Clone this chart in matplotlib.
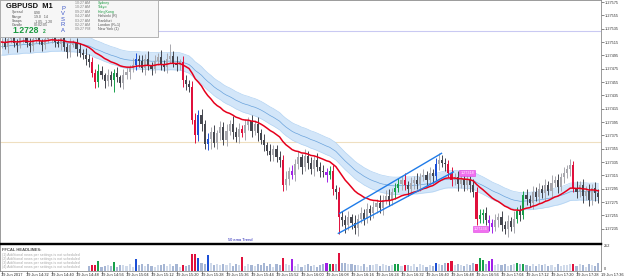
import numpy as np
import matplotlib
matplotlib.use('Agg')
import matplotlib.pyplot as plt
from matplotlib.patches import Rectangle

plt.rcParams['font.family'] = ['Liberation Sans', 'DejaVu Sans']

# prices are kept in points above 1.27000 (1 point = 0.00001)
base = 1.27
pt = 1e-5
first_open = 513

close_pts = [
    515, 508, 520, 524, 514, 510, 521, 526, 514, 509,
    520, 527, 516, 511, 519, 524, 528, 515, 512, 521,
    508, 500, 511, 514, 504, 499, 495, 490, 485, 468,
    455, 472, 465, 456, 466, 458, 468, 462, 454, 466,
    470, 476, 480, 490, 486, 476, 490, 480, 474, 487,
    492, 482, 478, 490, 494, 484, 480, 485, 458, 452,
    447, 398, 375, 405, 392, 362, 370, 380, 364, 378,
    388, 368, 382, 392, 380, 372, 385, 378, 390, 396,
    382, 392, 378, 368, 360, 352, 346, 354, 342, 338,
    300, 310, 322, 315, 332, 342, 328, 344, 334, 324,
    338, 328, 322, 320, 316, 322, 295, 290, 252, 248,
    240, 252, 244, 236, 250, 258, 250, 264, 258, 268,
    274, 266, 278, 284, 278, 290, 296, 302, 308, 300,
    294, 304, 308, 302, 312, 316, 308, 318, 314, 332,
    338, 334, 332, 318, 308, 312, 302, 310, 300, 308,
    300, 290, 250, 255, 258, 248, 244, 238, 248, 252,
    240, 234, 246, 238, 250, 262, 256, 285, 280, 274,
    290, 282, 294, 288, 300, 292, 304, 308, 298, 312,
    318, 324, 330, 296, 290, 300, 284, 292, 278, 296,
    288, 282]

up_wick = [
    6, 9, 4, 8, 11, 5, 9, 4, 10, 7,
    5, 9, 7, 4, 10, 6, 12, 7, 4, 6,
    9, 5, 10, 4, 7, 9, 6, 11, 7, 8,
    6, 10, 7, 4, 9, 6, 7, 10, 4, 9,
    7, 5, 11, 9, 6, 10, 7, 12, 5, 9,
    7, 11, 6, 9, 18, 7, 10, 5, 9, 7,
    6, 9, 11, 8, 10, 6, 9, 7, 11, 5,
    9, 7, 10, 6, 12, 7, 9, 5, 10, 7,
    9, 6, 11, 7, 9, 5, 10, 7, 6, 9,
    7, 11, 6, 9, 7, 10, 5, 11, 7, 9,
    6, 10, 7, 9, 6, 7, 9, 5, 7, 10,
    7, 9, 5, 11, 7, 9, 6, 10, 7, 9,
    6, 11, 7, 9, 10, 6, 7, 9, 6, 10,
    7, 9, 6, 11, 7, 9, 6, 10, 7, 9,
    10, 8, 7, 6, 9, 7, 10, 5, 9, 7,
    6, 9, 7, 10, 6, 9, 7, 5, 9, 7,
    10, 6, 9, 7, 11, 6, 9, 7, 10, 6,
    9, 7, 10, 6, 9, 7, 11, 6, 9, 7,
    10, 6, 9, 7, 11, 6, 9, 7, 10, 6,
    9, 7]

down_wick = [
    7, 4, 9, 6, 7, 10, 4, 7, 6, 9,
    7, 6, 4, 9, 7, 6, 10, 7, 4, 9,
    6, 9, 7, 4, 10, 7, 6, 9, 7, 6,
    9, 7, 6, 10, 7, 9, 18, 7, 6, 9,
    7, 10, 6, 7, 9, 6, 10, 7, 9, 6,
    7, 9, 6, 10, 7, 6, 9, 7, 10, 9,
    7, 6, 11, 9, 10, 7, 9, 16, 7, 9,
    10, 7, 9, 6, 11, 7, 9, 6, 10, 7,
    9, 7, 11, 6, 9, 7, 10, 9, 7, 11,
    9, 7, 10, 6, 9, 7, 11, 6, 9, 7,
    10, 6, 9, 7, 11, 6, 9, 10, 25, 9,
    11, 7, 10, 9, 12, 7, 9, 6, 10, 7,
    9, 7, 10, 6, 9, 7, 11, 6, 9, 7,
    10, 6, 9, 7, 11, 6, 9, 7, 10, 6,
    9, 7, 10, 6, 9, 7, 11, 6, 9, 7,
    10, 7, 9, 6, 11, 7, 12, 9, 7, 10,
    9, 7, 11, 6, 9, 7, 10, 6, 9, 7,
    10, 6, 9, 7, 11, 6, 9, 7, 10, 6,
    9, 7, 10, 6, 9, 7, 11, 6, 9, 7,
    12, 9]

volume = [
    0, 0, 0, 0, 0, 0, 0, 0, 0, 0,
    0, 0, 0, 0, 0, 0, 0, 0, 0, 0,
    0, 0, 0, 0, 0, 0, 0, 0, 48, 64,
    64, 98, 36, 55, 62, 46, 88, 38, 58, 65,
    50, 70, 42, 118, 60, 68, 48, 72, 55, 38,
    65, 58, 72, 46, 66, 52, 70, 42, 64, 48,
    62, 168, 168, 128, 76, 68, 158, 80, 65, 72,
    58, 70, 62, 78, 55, 68, 60, 138, 48, 72,
    65, 46, 70, 62, 76, 55, 68, 42, 72, 65,
    131, 70, 58, 118, 50, 68, 44, 60, 72, 48,
    65, 38, 58, 70, 84, 74, 67, 68, 181, 76,
    82, 68, 72, 58, 65, 48, 70, 42, 62, 56,
    68, 50, 70, 60, 46, 65, 67, 67, 55, 64,
    62, 48, 68, 44, 72, 58, 38, 65, 54, 84,
    70, 60, 76, 81, 97, 58, 72, 65, 48, 68,
    62, 78, 74, 134, 114, 70, 101, 124, 65, 72,
    58, 68, 48, 62, 70, 81, 72, 74, 65, 55,
    70, 46, 66, 58, 72, 50, 60, 44, 68, 54,
    65, 58, 70, 67, 48, 72, 62, 42, 68, 60,
    55, 82]

# PVSRA colouring of high volume candles
climax_bear = [29, 30, 58, 61, 62, 77, 90, 106, 108, 129, 143, 144, 152, 183]
climax_bull = [31, 36, 105, 126, 127, 153, 154, 165, 167]
rising_bull = [43, 63, 66, 139]
rising_bear = [93, 104, 156, 157]

time_labels = ["19 Jun 2017", "19 Jun 14:32", "19 Jun 14:40", "19 Jun 14:48", "19 Jun 14:56",
               "19 Jun 15:04", "19 Jun 15:12", "19 Jun 15:20", "19 Jun 15:28", "19 Jun 15:36",
               "19 Jun 15:44", "19 Jun 15:52", "19 Jun 16:00", "19 Jun 16:08", "19 Jun 16:16",
               "19 Jun 16:24", "19 Jun 16:32", "19 Jun 16:40", "19 Jun 16:48", "19 Jun 16:56",
               "19 Jun 17:04", "19 Jun 17:12", "19 Jun 17:20", "19 Jun 17:28", "19 Jun 17:36"]
label_step = 8

price_ticks = [575 - 20 * k for k in range(18)]

# trend channel, (candle index, points)
upper_line = [(108.2, 258), (140.8, 348)]
lower_line = [(107.8, 228), (144.6, 320)]
hlines = [(531, '#c9c9f2'), (365, '#efdfc0')]

# indicator settings
red_span, red_seed = 21, 515
band_span, band_seed, band_half = 40, 508, 13

W, H = 625, 278
fig = plt.figure(figsize=(W / 100, H / 100), dpi=100)
fig.patch.set_facecolor('white')

def ema(vals, span, seed):
    a = 2.0 / (span + 1)
    out = []
    e = seed
    for v in vals:
        e = e + a * (v - e)
        out.append(e)
    return np.array(out)

n = len(close_pts)
x = np.arange(n)
c = np.array(close_pts, dtype=float)
o = np.concatenate([[first_open], c[:-1]])
hi = np.maximum(o, c) + np.array(up_wick)
lo = np.minimum(o, c) - np.array(down_wick)

def col(i):
    if i in climax_bear:
        return '#e0103c'
    if i in climax_bull:
        return '#16a04a'
    if i in rising_bull:
        return '#1c4fd6'
    if i in rising_bear:
        return '#a020e8'
    return None

# main price panel
ax = fig.add_axes([0, 1 - 243 / H, 601 / W, 243 / H])
ax.set_xlim(-0.48, 191.84)
ax.set_ylim(base + 213.5 * pt, base + 578 * pt)
ax.set_facecolor('white')

for yv, cc in hlines:
    ax.axhline(base + yv * pt, color=cc, lw=0.8, zorder=0.5)

mid = ema(c, band_span, band_seed)
ax.fill_between(x, base + (mid - band_half) * pt, base + (mid + band_half) * pt,
                color='#d3e6f9', lw=0, zorder=1)
ax.plot(x, base + (mid - band_half) * pt, color='#b2d3f3', lw=0.5, zorder=1.1)
ax.plot(x, base + (mid + band_half) * pt, color='#b2d3f3', lw=0.5, zorder=1.1)
ax.plot(x, base + mid * pt, color='#6aa3dc', lw=0.5, zorder=1.2)

for i in range(n):
    cc = col(i)
    if cc is None:
        cc = '#a8a8ae' if c[i] >= o[i] else '#45474f'
    ax.vlines(i, base + lo[i] * pt, base + hi[i] * pt, color=cc, lw=0.7, zorder=3)
    h = max(abs(c[i] - o[i]), 1.5)
    ax.bar(i, h * pt, bottom=base + min(o[i], c[i]) * pt, width=0.66, color=cc,
           lw=0, zorder=3.1)

red = ema(c, red_span, red_seed)
ax.plot(x, base + red * pt, color='#e6001c', lw=1.1, zorder=4)

for line in (upper_line, lower_line):
    ax.plot([p[0] for p in line], [base + p[1] * pt for p in line],
            color='#1f7be8', lw=1.0, zorder=5)

ax.text(149, base + 318 * pt, '1.27318', fontsize=2.7, color='white', ha='center', va='center',
        zorder=6, bbox=dict(boxstyle='square,pad=0.25', fc='#f070f0', ec='#e040e0', lw=0.4))
ax.text(153.3, base + 234 * pt, '1.27234', fontsize=2.7, color='white', ha='center', va='center',
        zorder=6, bbox=dict(boxstyle='square,pad=0.25', fc='#f070f0', ec='#e040e0', lw=0.4))
ax.text(72.5, base + 218 * pt, '50 ema Trend', fontsize=2.9, color='#2020b4', ha='left',
        va='center', zorder=6)

ax.yaxis.tick_right()
ax.set_yticks([base + t * pt for t in price_ticks])
ax.set_yticklabels(['%.5f' % (base + t * pt) for t in price_ticks])
ax.tick_params(axis='y', labelsize=2.8, length=2, width=0.4, pad=1, colors='#303030')
ax.set_xticks([])
for s in ax.spines.values():
    s.set_color('#8a8a8a')
    s.set_linewidth(0.6)
ax.spines['bottom'].set_color('black')
ax.spines['bottom'].set_linewidth(1.0)

# volume panel
axv = fig.add_axes([0, 1 - 271 / H, 601 / W, 27 / H])
axv.set_xlim(-0.48, 191.84)
axv.set_ylim(0, 272)
vcols = []
for i in range(n):
    cc = col(i)
    if cc is None:
        cc = '#d0daea' if c[i] >= o[i] else '#a6b6d4'
    vcols.append(cc)
axv.bar(x, volume, width=0.66, color=vcols, lw=0)
axv.set_yticks([])
axv.set_xticks(list(range(0, n, label_step)))
axv.tick_params(axis='x', length=2, width=0.4, labelbottom=False, colors='#303030')
for k, lbl in enumerate(time_labels):
    axv.text(k * label_step - 0.3, -0.16, lbl, transform=axv.get_xaxis_transform(),
             ha='left', va='center', fontsize=2.8, color='#202020', clip_on=False)
for s in axv.spines.values():
    s.set_color('#8a8a8a')
    s.set_linewidth(0.6)
axv.spines['top'].set_color('black')
axv.spines['top'].set_linewidth(1.0)
axv.text(1.005, 0.93, '252', transform=axv.transAxes, fontsize=2.8, va='center', color='#303030')
axv.text(1.005, 0.07, '0', transform=axv.transAxes, fontsize=2.8, va='center', color='#303030')

axv.text(0.004, 0.78, 'FFCAL HEADLINES:', transform=axv.transAxes, fontsize=3.0,
         fontweight='bold', color='#505050', va='center')
for k in range(4):
    axv.text(0.004, 0.61 - k * 0.148,
             '(%d) Additional news per settings is not scheduled' % (k + 1),
             transform=axv.transAxes, fontsize=2.6, color='#a8a8a8', va='center')

# header panel
def fx(px):
    return px / W

def fy(py):
    return 1 - py / H

fig.add_artist(Rectangle((0, fy(37)), fx(158), 37 / H, transform=fig.transFigure,
                         fc='#f6f6f6', ec='#a8a8a8', lw=0.6, zorder=5))
fig.text(fx(6), fy(6), 'GBPUSD  M1', fontsize=5.4, fontweight='bold', color='#101010',
         va='center', zorder=6)
info_names = ['Spread', 'Range', 'Swaps', 'Candle']
info_vals = ['0.90', '19.0   14', '-1.05,  1.20', '00:02:05']
for k in range(4):
    fig.text(fx(12), fy(12.5 + 4.3 * k), info_names[k], fontsize=2.5, color='#505050',
             va='center', zorder=6)
    fig.text(fx(34), fy(12.5 + 4.3 * k), info_vals[k], fontsize=2.5, color='#505050',
             va='center', zorder=6)
fig.text(fx(12), fy(30.5), '1.2728', fontsize=6.2, fontweight='bold', color='#1a9a40',
         va='center', zorder=6)
fig.text(fx(43), fy(31.5), '2', fontsize=3.6, fontweight='bold', color='#1a9a40',
         va='center', zorder=6)
for k, ch in enumerate('PVSRA'):
    fig.text(fx(63), fy(8 + 5.6 * k), ch, fontsize=4.2, color='#3a55c8', ha='center',
             va='center', zorder=6)
clock_times = ['10:27 AM', '10:27 AM', '09:27 AM', '04:27 AM', '03:27 AM', '02:27 AM', '09:27 PM']
clock_names = ['Sydney', 'Tokyo', 'HongKong', 'Helsinki (R)', 'Frankfurt', 'London (R+1)', 'New York (1)']
clock_cols = ['#1a9a40', '#1a9a40', '#1a9a40', '#505050', '#505050', '#505050', '#505050']
for k in range(7):
    fig.text(fx(75), fy(3 + 4.4 * k), clock_times[k], fontsize=2.6, color='#808080',
             va='center', zorder=6)
    fig.text(fx(98), fy(3 + 4.4 * k), clock_names[k], fontsize=2.6, color=clock_cols[k],
             va='center', zorder=6)

fig.savefig('out.png', dpi=100)
